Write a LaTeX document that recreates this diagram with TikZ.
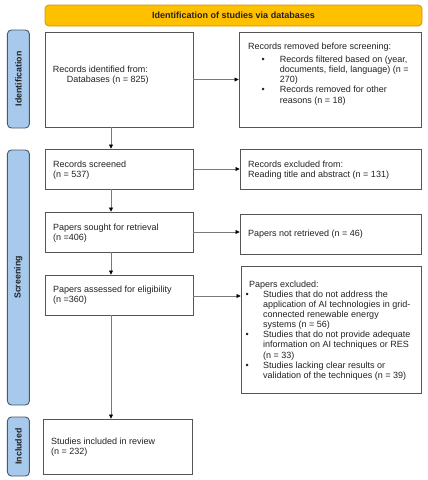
\documentclass[tikz,border=0pt]{standalone}
\usepackage{fontspec}
\setmainfont{Liberation Sans}
\usetikzlibrary{arrows.meta}
\definecolor{titlefill}{HTML}{FFC000}
\definecolor{titledraw}{HTML}{C99700}
\definecolor{sidefill}{HTML}{A6C9EC}
\definecolor{sidedraw}{HTML}{4A5868}
\definecolor{boxdraw}{HTML}{555555}
\definecolor{arrdraw}{HTML}{7A7A7A}
\definecolor{txt}{HTML}{222222}
\begin{document}
\begin{tikzpicture}[x=1pt,y=-1pt,
  box/.style={draw=boxdraw, line width=0.9pt, inner sep=0pt},
  side/.style={draw=sidedraw, fill=sidefill, line width=0.9pt, rounded corners=4pt, inner sep=0pt,
     font=\fontsize{8.8}{10}\selectfont\bfseries, text=txt},
  titlebar/.style={draw=titledraw, fill=titlefill, line width=0.8pt, rounded corners=4pt, inner sep=0pt,
     font=\fontsize{9}{10}\selectfont\bfseries, text=txt},
  tx/.style={anchor=west, inner sep=0pt, align=left, text=txt, font=\fontsize{9}{10.1}\selectfont},
  arr/.style={draw=arrdraw, line width=0.7pt, -{Triangle[length=4pt,width=4pt,fill=black,color=black]}}
]
\useasboundingbox (0,0) rectangle (428,480);
\fill[white] (0,0) rectangle (428,480);

% title bar
\node[titlebar, minimum width=377pt, minimum height=21pt] (title) at (233.5,15.5) {Identification of studies via databases};

% side bars
\node[side, rotate=90, minimum width=98pt, minimum height=22pt] (sI) at (18.4,79) {Identification};
\node[side, rotate=90, minimum width=255pt, minimum height=22pt] (sS) at (18.4,277.5) {Screening};
\node[side, rotate=90, minimum width=59pt, minimum height=22pt] (sN) at (18.4,446.5) {Included};

% boxes
\node[box, minimum width=148pt, minimum height=95pt] (A) at (119,79.5) {};
\node[box, minimum width=182pt, minimum height=95pt] (B) at (330,79.5) {};
\node[box, minimum width=148pt, minimum height=40pt] (C) at (119,169) {};
\node[box, minimum width=181pt, minimum height=40pt] (D) at (330.5,169) {};
\node[box, minimum width=148pt, minimum height=40pt] (E) at (119,232) {};
\node[box, minimum width=181pt, minimum height=40pt] (F) at (330.5,234) {};
\node[box, minimum width=148pt, minimum height=40pt] (G) at (119,295) {};
\node[box, minimum width=180pt, minimum height=127pt] (H) at (331,329.5) {};
\node[box, minimum width=149pt, minimum height=55pt] (I) at (117.5,446.5) {};

% texts
\node[tx] (tA) at (52.7,75.5) {Records identified from:\\\hspace*{14pt}Databases (n = 825)};
\node[tx] (tB) at (248,74) {Records removed before screening:\\[3pt]
\hspace*{13.5pt}\makebox[18.2pt][l]{\textbullet}Records filtered based on (year,\\
\hspace*{31.7pt}documents, field, language) (n =\\
\hspace*{31.7pt}270)\\
\hspace*{13.5pt}\makebox[18.2pt][l]{\textbullet}Records removed for other\\
\hspace*{31.7pt}reasons (n = 18)};
\node[tx] (tC) at (53,170) {Records screened\\(n = 537)};
\node[tx] (tD) at (248,170) {Records excluded from:\\Reading title and abstract (n = 131)};
\node[tx] (tE) at (53,233) {Papers sought for retrieval\\(n =406)};
\node[tx] (tF) at (248,234) {Papers not retrieved (n = 46)};
\node[tx] (tG) at (53,295) {Papers assessed for eligibility\\(n =360)};
\node[tx] (tH) at (245.5,330.5) {\hspace*{3.5pt}Papers excluded:\\
\makebox[17.5pt][l]{\textbullet}Studies that do not address the\\
\hspace*{17.5pt}application of AI technologies in grid-\\
\hspace*{17.5pt}connected renewable energy\\
\hspace*{17.5pt}systems (n = 56)\\
\makebox[17.5pt][l]{\textbullet}Studies that do not provide adequate\\
\hspace*{17.5pt}information on AI techniques or RES\\
\hspace*{17.5pt}(n = 33)\\
\makebox[17.5pt][l]{\textbullet}Studies lacking clear results or\\
\hspace*{17.5pt}validation of the techniques (n = 39)};
\node[tx] (tI) at (51,447) {Studies included in review\\(n = 232)};

% horizontal arrows
\draw[arr] (A.east) -- (B.west);
\draw[arr] (C.east) -- (D.west);
\draw[arr] (E.east) -- (E.east -| F.west);
\draw[arr] ([yshift=-1pt]G.east) -- ([yshift=-1pt]G.east -| H.west);

% vertical arrows
\draw[arr] ([xshift=-8pt]A.south) -- ([xshift=-8pt]A.south |- C.north);
\draw[arr] ([xshift=-8pt]C.south) -- ([xshift=-8pt]C.south |- E.north);
\draw[arr] ([xshift=-8pt]E.south) -- ([xshift=-8pt]E.south |- G.north);
\draw[arr] ([xshift=-8pt]G.south) -- ([xshift=-8pt]G.south |- I.north);
\end{tikzpicture}
\end{document}
